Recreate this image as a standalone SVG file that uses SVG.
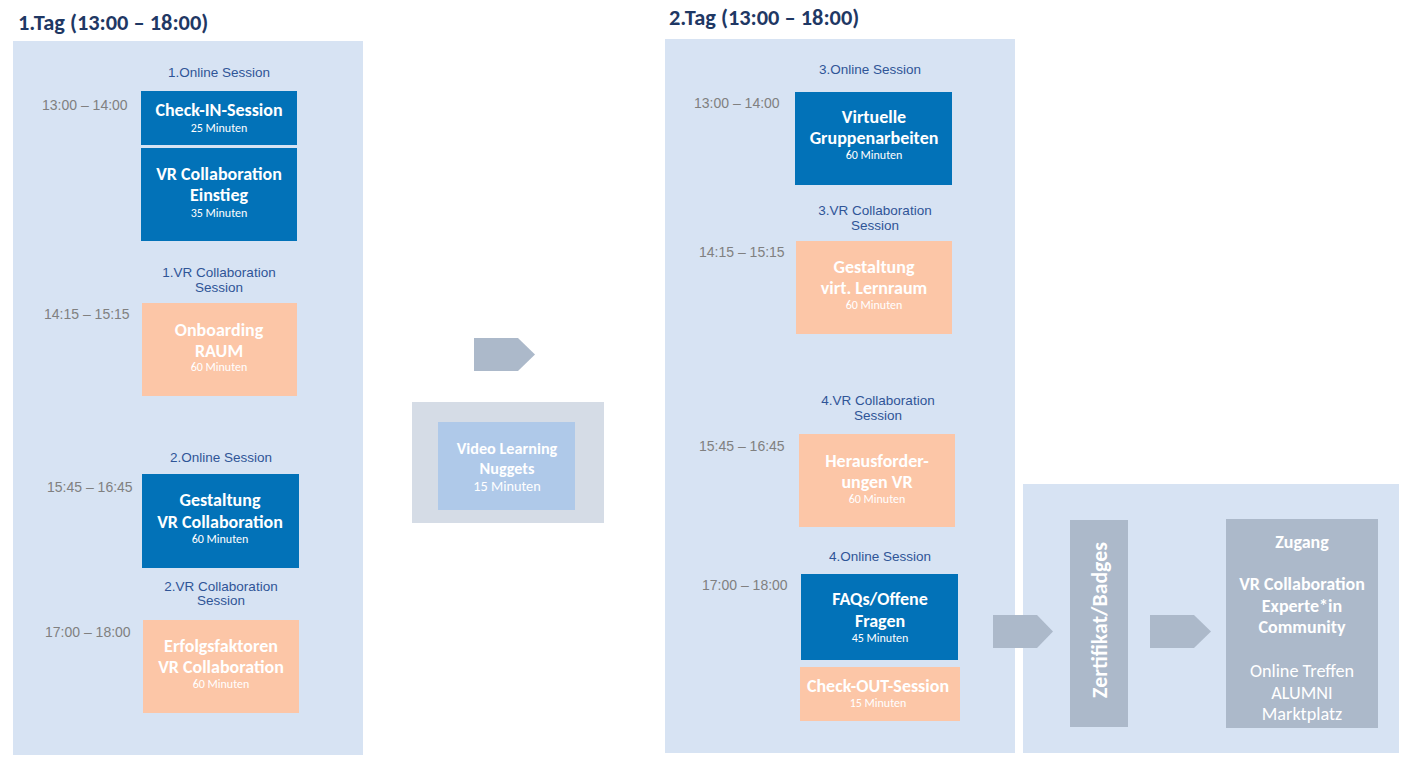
<svg xmlns="http://www.w3.org/2000/svg" width="1405" height="764" viewBox="0 0 1405 764">
<style>
.panel{fill:#d7e3f3}
.title{font-family:Carlito,Lato,"Liberation Sans",sans-serif;font-weight:bold;font-size:22.4px;fill:#1f3864}
.lbl{font-family:"Liberation Sans",Arial,sans-serif;font-size:13.5px;fill:#2f5597;text-anchor:middle}
.time{font-family:"Liberation Sans",Arial,sans-serif;font-size:14px;fill:#808080}
.online{fill:#0272b8}
.vr{fill:#fcc6a7}
.gray{fill:#acb9ca}
.bt{font-family:Carlito,Lato,"Liberation Sans",sans-serif;font-weight:bold;font-size:18px;fill:#fff;text-anchor:middle}
.st{font-family:Carlito,Lato,"Liberation Sans",sans-serif;font-size:12px;fill:#fff;text-anchor:middle}
.bt2{font-family:Carlito,Lato,"Liberation Sans",sans-serif;font-weight:bold;font-size:16.2px;fill:#fff;text-anchor:middle}
.st2{font-family:Carlito,Lato,"Liberation Sans",sans-serif;font-size:14.3px;fill:#fff;text-anchor:middle}
.rt{font-family:Carlito,Lato,"Liberation Sans",sans-serif;font-size:18.2px;fill:#fff;text-anchor:middle}
</style>
<rect width="1405" height="764" fill="#ffffff"/>

<g id="day1">
<text class="title" x="18" y="30">1.Tag (13:00 – 18:00)</text>
<rect class="panel" x="13" y="41" width="350" height="714"/>
<text class="lbl" x="219" y="77">1.Online Session</text>
<text class="time" x="42" y="110">13:00 – 14:00</text>
<text class="lbl" x="219" y="277">1.VR Collaboration</text>
<text class="lbl" x="219" y="292">Session</text>
<text class="time" x="44" y="319">14:15 – 15:15</text>
<text class="lbl" x="221" y="462">2.Online Session</text>
<text class="time" x="47" y="492">15:45 – 16:45</text>
<text class="lbl" x="221" y="591">2.VR Collaboration</text>
<text class="lbl" x="221" y="605">Session</text>
<text class="time" x="45" y="637">17:00 – 18:00</text>
</g>

<g id="checkin">
<rect class="online" x="141" y="91" width="156" height="54"/>
<text class="bt" x="219" y="116">Check-IN-Session</text>
<text class="st" x="219" y="132">25 Minuten</text>
</g>
<g id="einstieg">
<rect class="online" x="141" y="148" width="156" height="93"/>
<text class="bt" x="219" y="180">VR Collaboration</text>
<text class="bt" x="219" y="201">Einstieg</text>
<text class="st" x="219" y="217">35 Minuten</text>
</g>
<g id="onboarding">
<rect class="vr" x="142" y="303" width="155" height="93"/>
<text class="bt" x="219" y="336">Onboarding</text>
<text class="bt" x="219" y="357">RAUM</text>
<text class="st" x="219" y="371">60 Minuten</text>
</g>
<g id="gestaltung1">
<rect class="online" x="142" y="474" width="157" height="94"/>
<text class="bt" x="220" y="506">Gestaltung</text>
<text class="bt" x="220" y="528">VR Collaboration</text>
<text class="st" x="220" y="543">60 Minuten</text>
</g>
<g id="erfolgsfaktoren">
<rect class="vr" x="143" y="620" width="156" height="93"/>
<text class="bt" x="221" y="652">Erfolgsfaktoren</text>
<text class="bt" x="221" y="673">VR Collaboration</text>
<text class="st" x="221" y="688">60 Minuten</text>
</g>

<g id="video">
<rect x="412" y="402" width="192" height="121" fill="#d5dce6"/>
<rect x="438" y="422" width="137" height="88" fill="#afc9e9"/>
<text class="bt2" x="507" y="454">Video Learning</text>
<text class="bt2" x="507" y="474">Nuggets</text>
<text class="st2" x="507" y="491">15 Minuten</text>
</g>

<g id="day2">
<text class="title" x="669" y="25">2.Tag (13:00 – 18:00)</text>
<rect class="panel" x="665" y="39" width="350" height="714"/>
<text class="lbl" x="870" y="74">3.Online Session</text>
<text class="time" x="694" y="108">13:00 – 14:00</text>
<text class="lbl" x="875" y="215">3.VR Collaboration</text>
<text class="lbl" x="875" y="230">Session</text>
<text class="time" x="699" y="257">14:15 – 15:15</text>
<text class="lbl" x="878" y="405">4.VR Collaboration</text>
<text class="lbl" x="878" y="420">Session</text>
<text class="time" x="699" y="451">15:45 – 16:45</text>
<text class="lbl" x="880" y="561">4.Online Session</text>
<text class="time" x="702" y="590">17:00 – 18:00</text>
</g>

<g id="virtuelle">
<rect class="online" x="795" y="92" width="157" height="93"/>
<text class="bt" x="874" y="123">Virtuelle</text>
<text class="bt" x="874" y="144">Gruppenarbeiten</text>
<text class="st" x="874" y="159">60 Minuten</text>
</g>
<g id="lernraum">
<rect class="vr" x="796" y="241" width="156" height="93"/>
<text class="bt" x="874" y="273">Gestaltung</text>
<text class="bt" x="874" y="294">virt. Lernraum</text>
<text class="st" x="874" y="309">60 Minuten</text>
</g>
<g id="herausforderungen">
<rect class="vr" x="799" y="434" width="156" height="93"/>
<text class="bt" x="877" y="467">Herausforder-</text>
<text class="bt" x="877" y="488">ungen VR</text>
<text class="st" x="877" y="503">60 Minuten</text>
</g>
<g id="faqs">
<rect class="online" x="801" y="574" width="157" height="86"/>
<text class="bt" x="880" y="605">FAQs/Offene</text>
<text class="bt" x="880" y="627">Fragen</text>
<text class="st" x="880" y="642">45 Minuten</text>
</g>
<g id="checkout">
<rect class="vr" x="800" y="667" width="160" height="54"/>
<text class="bt" x="878" y="692">Check-OUT-Session</text>
<text class="st" x="878" y="707">15 Minuten</text>
</g>

<g id="after">
<rect class="panel" x="1023" y="484" width="376" height="269"/>
</g>
<g id="zertifikat">
<rect class="gray" x="1070" y="520" width="58" height="207"/>
<text class="bt" style="font-size:21.8px" transform="translate(1107,620) rotate(-90)" x="0" y="0">Zertifikat/Badges</text>
</g>
<g id="zugang">
<rect class="gray" x="1226" y="519" width="152" height="209"/>
<text class="bt" x="1302" y="548">Zugang</text>
<text class="bt" x="1302" y="590">VR Collaboration</text>
<text class="bt" x="1302" y="612">Experte*in</text>
<text class="bt" x="1302" y="633">Community</text>
<text class="rt" x="1302" y="677">Online Treffen</text>
<text class="rt" x="1302" y="699">ALUMNI</text>
<text class="rt" x="1302" y="720">Marktplatz</text>
</g>

<g id="connectors">
<polygon class="gray" points="474,338 518,338 535,354.5 518,371 474,371"/>
<polygon class="gray" points="993,615 1037,615 1053,631.5 1037,648 993,648"/>
<polygon class="gray" points="1150,615 1194,615 1211,631.5 1194,648 1150,648"/>
</g>
</svg>
